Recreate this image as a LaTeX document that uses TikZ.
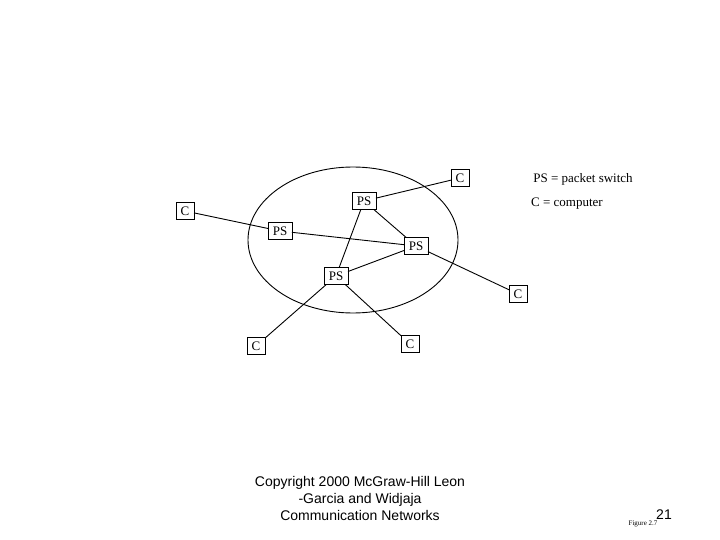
\documentclass[tikz,border=0pt]{standalone}
\usepackage{fontspec}
\setmainfont{Liberation Serif}
\newfontfamily\arialf{Liberation Sans}
\begin{document}
\begin{tikzpicture}[x=1pt,y=-1pt,
  bx/.style={draw,fill=white,inner xsep=4.5pt,inner ysep=4pt,font=\fontsize{13}{14}\selectfont},
  ln/.style={draw,line width=0.9pt}]
\useasboundingbox (0,0) rectangle (720,540);
\draw[line width=0.9pt] (353,240) ellipse [x radius=105, y radius=73];
\node[bx] (c1) at (460,178) {C};
\node[bx] (p1) at (364,201) {PS};
\node[bx] (c2) at (185,211) {C};
\node[bx] (p2) at (280,231) {PS};
\node[bx] (p3) at (416,246) {PS};
\node[bx] (p4) at (336,276) {PS};
\node[bx] (c3) at (518,294) {C};
\node[bx] (c4) at (256,346) {C};
\node[bx] (c5) at (410,344) {C};
\draw[ln] (c1) -- (p1);
\draw[ln] (c2) -- (p2);
\draw[ln] (p1) -- (p3);
\draw[ln] (p1) -- (p4);
\draw[ln] (p2) -- (p3);
\draw[ln] (p4) -- (p3);
\draw[ln] (p3) -- (c3);
\draw[ln] (p4) -- (c4);
\draw[ln] (p4) -- (c5);
\node[font=\fontsize{13}{14}\selectfont] (l1) at (583,179) {PS = packet switch};
\node[font=\fontsize{13}{14}\selectfont] (l2) at (567,204) {C = computer};
\node[font=\arialf\fontsize{14}{17}\selectfont,align=center] (cp) at (360,498) {Copyright 2000 McGraw-Hill Leon\\-Garcia and Widjaja\\Communication Networks};
\node[font=\arialf\fontsize{14}{14}\selectfont] (n21) at (664,515) {21};
\node[font=\fontsize{7}{8}\selectfont] (fg) at (643,524) {Figure 2.7};
\end{tikzpicture}
\end{document}
